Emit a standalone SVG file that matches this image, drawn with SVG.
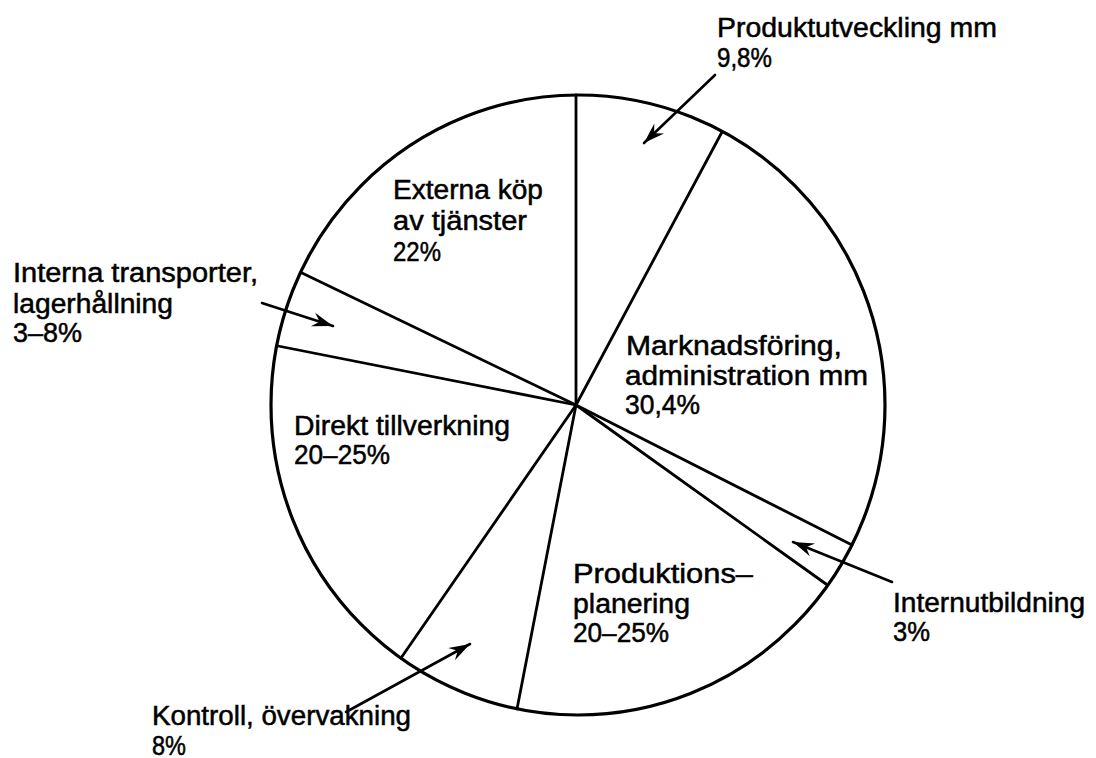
<svg xmlns="http://www.w3.org/2000/svg" width="1096" height="758" viewBox="0 0 1096 758">
<style>
.lbl{font-family:"Liberation Sans","DejaVu Sans",sans-serif;font-size:27px;fill:#000;stroke:#000;stroke-width:0.5}
.edge{stroke:#000;stroke-width:2.8;fill:none;stroke-linecap:round}
.arr{stroke:#000;stroke-width:2.6;fill:none;stroke-linecap:round}
</style>
<defs>
<marker id="ah" markerUnits="userSpaceOnUse" viewBox="-22 -8 24 16" refX="0" refY="0" markerWidth="24" markerHeight="16" orient="auto">
<path d="M0,0 L-21,-7 L-14,0 L-21,7 Z" fill="#000"/>
</marker>
</defs>
<rect width="1096" height="758" fill="#fff"/>
<g id="pie">
<ellipse cx="578" cy="405" rx="307" ry="310" fill="none" stroke="#000" stroke-width="3.2"/>
</g>
<g id="connectors">
<line class="edge" x1="576" y1="405" x2="576" y2="95"/>
<line class="edge" x1="576" y1="405" x2="722" y2="132"/>
<line class="edge" x1="576" y1="405" x2="852" y2="545"/>
<line class="edge" x1="576" y1="405" x2="826" y2="584"/>
<line class="edge" x1="576" y1="405" x2="517" y2="709"/>
<line class="edge" x1="576" y1="405" x2="401" y2="658"/>
<line class="edge" x1="576" y1="405" x2="278" y2="346"/>
<line class="edge" x1="576" y1="405" x2="302" y2="273"/>
<line class="arr" x1="715" y1="75" x2="644" y2="143" marker-end="url(#ah)"/>
<line class="arr" x1="262" y1="303" x2="333" y2="326" marker-end="url(#ah)"/>
<line class="arr" x1="892" y1="582" x2="793" y2="542" marker-end="url(#ah)"/>
<line class="arr" x1="346" y1="712" x2="470" y2="644" marker-end="url(#ah)"/>
</g>
<g id="produktutveckling">
<text class="lbl" x="717" y="37" textLength="280" lengthAdjust="spacingAndGlyphs">Produktutveckling mm</text>
<text class="lbl" x="717" y="67" textLength="55" lengthAdjust="spacingAndGlyphs">9,8%</text>
</g>
<g id="externa">
<text class="lbl" x="393" y="199" textLength="150" lengthAdjust="spacingAndGlyphs">Externa köp</text>
<text class="lbl" x="393" y="230" textLength="134" lengthAdjust="spacingAndGlyphs">av tjänster</text>
<text class="lbl" x="393" y="261" textLength="48" lengthAdjust="spacingAndGlyphs">22%</text>
</g>
<g id="interna">
<text class="lbl" x="13" y="282" textLength="245" lengthAdjust="spacingAndGlyphs">Interna transporter,</text>
<text class="lbl" x="13" y="313" textLength="160" lengthAdjust="spacingAndGlyphs">lagerhållning</text>
<text class="lbl" x="13" y="342" textLength="69" lengthAdjust="spacingAndGlyphs">3–8%</text>
</g>
<g id="marknadsforing">
<text class="lbl" x="626" y="355" textLength="216" lengthAdjust="spacingAndGlyphs">Marknadsföring,</text>
<text class="lbl" x="625" y="385" textLength="243" lengthAdjust="spacingAndGlyphs">administration mm</text>
<text class="lbl" x="625" y="414" textLength="75" lengthAdjust="spacingAndGlyphs">30,4%</text>
</g>
<g id="direkt">
<text class="lbl" x="294" y="435" textLength="216" lengthAdjust="spacingAndGlyphs">Direkt tillverkning</text>
<text class="lbl" x="294" y="464" textLength="96" lengthAdjust="spacingAndGlyphs">20–25%</text>
</g>
<g id="produktionsplanering">
<text class="lbl" x="573" y="583" textLength="180" lengthAdjust="spacingAndGlyphs">Produktions–</text>
<text class="lbl" x="573" y="613" textLength="117" lengthAdjust="spacingAndGlyphs">planering</text>
<text class="lbl" x="573" y="642" textLength="96" lengthAdjust="spacingAndGlyphs">20–25%</text>
</g>
<g id="internutbildning">
<text class="lbl" x="893" y="612" textLength="192" lengthAdjust="spacingAndGlyphs">Internutbildning</text>
<text class="lbl" x="893" y="641" textLength="37" lengthAdjust="spacingAndGlyphs">3%</text>
</g>
<g id="kontroll">
<text class="lbl" x="152" y="725" textLength="259" lengthAdjust="spacingAndGlyphs">Kontroll, övervakning</text>
<text class="lbl" x="152" y="755" textLength="34" lengthAdjust="spacingAndGlyphs">8%</text>
</g>
</svg>
